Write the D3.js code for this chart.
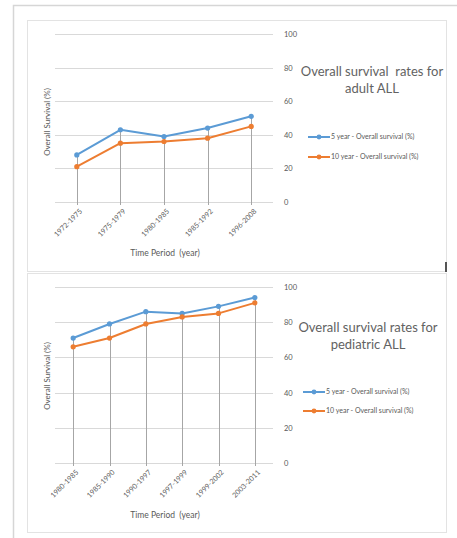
<!DOCTYPE html>
<html>
<head>
<meta charset="utf-8">
<script src="https://cdn.jsdelivr.net/npm/d3@7/dist/d3.min.js"></script>
<style>
  html, body { margin: 0; padding: 0; background: #fff; }
  svg { display: block; font-family: Lato, "Open Sans", sans-serif; }
  text { white-space: pre; }
</style>
</head>
<body>
<svg id="chart" width="457" height="538"></svg>
<script>
// Adult ALL
const adultPeriods = ["1972-1975", "1975-1979", "1980-1985", "1985-1992", "1996-2008"];
const adultFiveYear = [28, 43, 39, 44, 51];
const adultTenYear = [21, 35, 36, 38, 45];

// Pediatric ALL
const pedPeriods = ["1980-1985", "1985-1990", "1990-1997", "1997-1999", "1999-2002", "2003-2011"];
const pedFiveYear = [71, 79, 86, 85, 89, 94];
const pedTenYear = [66, 71, 79, 83, 85, 91];

const yTicks = [0, 20, 40, 60, 80, 100];
const seriesNames = ["5 year - Overall survival (%)", "10 year - Overall survival (%)"];
const colors = ["#5b9bd5", "#ed7d31"];

const svg = d3.select("#chart");

// outer frame
svg.append("rect").attr("x", 13.5).attr("y", 5.5).attr("width", 450).attr("height", 540)
  .attr("fill", "none").attr("stroke", "#d6d6d6").attr("stroke-width", 1.5);

function panel(opts) {
  const g = svg.append("g");
  // chart area box
  g.append("rect").attr("x", opts.box[0] + 0.5).attr("y", opts.box[1] + 0.5)
    .attr("width", opts.box[2]).attr("height", opts.box[3])
    .attr("fill", "#fff").attr("stroke", "#e3e3e3").attr("stroke-width", 1);

  const x = d3.scaleBand().domain(opts.periods).range([55, 273]);
  const y = d3.scaleLinear().domain([0, 100]).range(opts.yRange);

  // horizontal gridlines
  g.append("g").selectAll("line").data(yTicks).join("line")
    .attr("x1", 55).attr("x2", 273)
    .attr("y1", d => Math.round(y(d)) + 0.5).attr("y2", d => Math.round(y(d)) + 0.5)
    .attr("stroke", "#d9d9d9").attr("stroke-width", 1);

  // right value axis labels
  const yAxis = d3.axisRight(y).tickValues(yTicks).tickSize(0).tickPadding(0);
  const ya = g.append("g").attr("transform", "translate(284,0)").call(yAxis);
  ya.select(".domain").remove();
  ya.selectAll("text").attr("font-size", 7.5).attr("fill", "#595959")
    .attr("font-family", "Lato, sans-serif");

  const cx = d => x(d) + x.bandwidth() / 2;

  // drop lines from the higher series down past the axis
  const tops = opts.periods.map((p, i) => ({ p, v: Math.max(opts.a[i], opts.b[i]) }));
  g.append("g").selectAll("line").data(tops).join("line")
    .attr("x1", d => Math.round(cx(d.p)) + 0.5).attr("x2", d => Math.round(cx(d.p)) + 0.5)
    .attr("y1", d => y(d.v)).attr("y2", y(0) + 3)
    .attr("stroke", "#a6a6a6").attr("stroke-width", 1);

  // category labels
  const xa = g.append("g").attr("transform", `translate(0,${y(0) + 5})`)
    .call(d3.axisBottom(x).tickSize(0).tickPadding(0));
  xa.select(".domain").remove();
  xa.selectAll("text")
    .attr("font-size", 7.2).attr("fill", "#606060").attr("font-family", "Lato, sans-serif")
    .attr("text-anchor", "end").attr("dy", "0.35em")
    .attr("transform", "translate(4,3) rotate(-45)");

  const line = d3.line().x((d, i) => cx(opts.periods[i])).y(d => y(d));
  [opts.a, opts.b].forEach((vals, k) => {
    g.append("path").datum(vals).attr("d", line)
      .attr("fill", "none").attr("stroke", colors[k]).attr("stroke-width", 2)
      .attr("stroke-linejoin", "round");
    g.append("g").selectAll("circle").data(vals).join("circle")
      .attr("cx", (d, i) => cx(opts.periods[i])).attr("cy", d => y(d))
      .attr("r", 2.6).attr("fill", colors[k]);
  });

  // axis titles
  g.append("text").attr("x", 165).attr("y", opts.xTitleY)
    .attr("text-anchor", "middle").attr("font-size", 8.5).attr("fill", "#595959")
    .text("Time Period  (year)");
  g.append("text")
    .attr("transform", `translate(${opts.yTitleX},${opts.yTitleY}) rotate(-90)`)
    .attr("text-anchor", "middle").attr("font-size", 8).attr("fill", "#595959")
    .text("Overall Survival (%)");

  // chart title
  const t = g.append("text").attr("text-anchor", "middle").attr("font-size", 13)
    .attr("fill", "#626262");
  opts.title.forEach((s, i) => {
    t.append("tspan").attr("x", opts.titlePos[0]).attr("y", opts.titlePos[1] + i * 17).text(s);
  });

  // legend
  seriesNames.forEach((s, k) => {
    const ly = opts.legend[1] + k * opts.legendGap;
    g.append("line").attr("x1", opts.legend[0]).attr("x2", opts.legend[0] + 22)
      .attr("y1", ly).attr("y2", ly).attr("stroke", colors[k]).attr("stroke-width", 2);
    g.append("circle").attr("cx", opts.legend[0] + 11).attr("cy", ly).attr("r", 2.4)
      .attr("fill", colors[k]);
    g.append("text").attr("x", opts.legend[0] + 23).attr("y", ly).attr("dy", "0.35em")
      .attr("font-size", 7).attr("fill", "#595959").text(s);
  });
}

panel({
  box: [27, 20, 419, 251],
  periods: adultPeriods, a: adultFiveYear, b: adultTenYear,
  yRange: [202, 34],
  xTitleY: 256, yTitleX: 50, yTitleY: 122,
  title: ["Overall survival  rates for", "adult ALL"], titlePos: [372, 76],
  legend: [308, 137], legendGap: 20
});

panel({
  box: [27, 273, 419, 259],
  periods: pedPeriods, a: pedFiveYear, b: pedTenYear,
  yRange: [463, 287],
  xTitleY: 518, yTitleX: 50, yTitleY: 376,
  title: ["Overall survival rates for", "pediatric ALL"], titlePos: [368, 332],
  legend: [303, 392], legendGap: 19
});

// small dark marker at the panel edge
svg.append("rect").attr("x", 445).attr("y", 262).attr("width", 2).attr("height", 10).attr("fill", "#555");
</script>
</body>
</html>
